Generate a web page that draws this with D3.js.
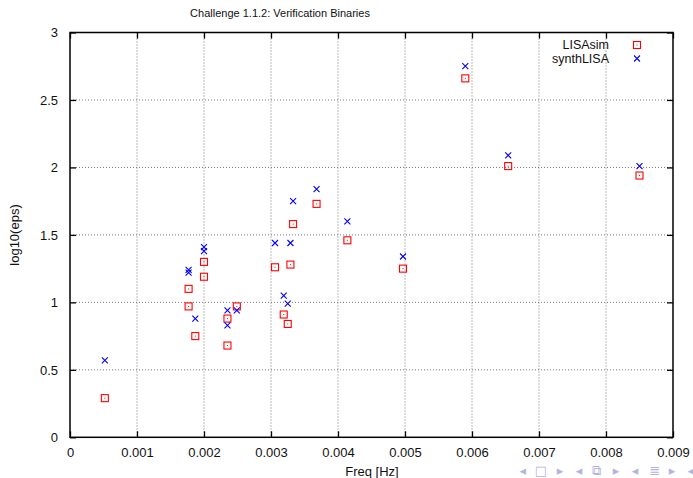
<!DOCTYPE html>
<html><head><meta charset="utf-8">
<script src="https://cdn.jsdelivr.net/npm/d3@7"></script>
<style>
body{margin:0;background:#fff;}
svg{display:block;font-family:"Liberation Sans",Arial,sans-serif;}
</style></head>
<body><svg id="c" width="693" height="478"></svg>
<script>
const freq = [0.00052, 0.00177, 0.00177, 0.00187, 0.0020, 0.0020, 0.00235, 0.00235, 0.00249, 0.00306, 0.00319, 0.00325, 0.00329, 0.00333, 0.00368, 0.00414, 0.00497, 0.0059, 0.00654, 0.00850];
const lisasim = [0.29, 0.97, 1.10, 0.75, 1.19, 1.30, 0.68, 0.88, 0.97, 1.26, 0.91, 0.84, 1.28, 1.58, 1.73, 1.46, 1.25, 2.66, 2.01, 1.94];
const synthlisa = [0.57, 1.22, 1.24, 0.88, 1.38, 1.41, 0.83, 0.94, 0.94, 1.44, 1.05, 0.99, 1.44, 1.75, 1.84, 1.60, 1.34, 2.75, 2.09, 2.01];
const xTicks = [0, 0.001, 0.002, 0.003, 0.004, 0.005, 0.006, 0.007, 0.008, 0.009];
const yTicks = [0, 0.5, 1, 1.5, 2, 2.5, 3];
const seriesNames = ["LISAsim", "synthLISA"];
const navSymbols = ["◂","□","▸","◂","⧉","▸","◂","≣","▸","◂"];

const svg = d3.select("#c");
const L = 70, R = 673, T = 32.5, B = 437.3;
const x = d3.scaleLinear().domain([0, 0.009]).range([L, R]);
const y = d3.scaleLinear().domain([0, 3]).range([B, T]);
const fmtX = d => d === 0 ? "0" : d3.format(".3f")(d);
const fmtY = d => String(d);

// grid
const grid = svg.append("g");
grid.selectAll("line.gx").data(xTicks.slice(1, -1)).join("line")
  .attr("x1", d => x(d)).attr("x2", d => x(d)).attr("y1", T).attr("y2", B)
  .attr("stroke", "#777").attr("stroke-width", 1).attr("stroke-dasharray", "1,2");
grid.selectAll("line.gy").data(yTicks.slice(1, -1)).join("line")
  .attr("y1", d => y(d)).attr("y2", d => y(d)).attr("x1", L).attr("x2", R)
  .attr("stroke", "#777").attr("stroke-width", 1).attr("stroke-dasharray", "1,2");

// axes
const tk = 6;
const ax = svg.append("g").attr("transform", `translate(0,${B})`)
  .call(d3.axisBottom(x).tickValues(xTicks).tickFormat(fmtX).tickSizeInner(-tk).tickSizeOuter(0).tickPadding(10));
const ay = svg.append("g").attr("transform", `translate(${L},0)`)
  .call(d3.axisLeft(y).tickValues(yTicks).tickFormat(fmtY).tickSizeInner(-tk).tickSizeOuter(0).tickPadding(12));
const at = svg.append("g").attr("transform", `translate(0,${T})`)
  .call(d3.axisTop(x).tickValues(xTicks).tickFormat("").tickSizeInner(-tk).tickSizeOuter(0));
const ar = svg.append("g").attr("transform", `translate(${R},0)`)
  .call(d3.axisRight(y).tickValues(yTicks).tickFormat("").tickSizeInner(-tk).tickSizeOuter(0));
[ax, ay, at, ar].forEach(g => {
  g.select(".domain").remove();
  g.selectAll(".tick line").attr("stroke", "#000").attr("stroke-width", 1.3);
  g.selectAll(".tick text").attr("fill", "#111").style("font-size", "13px").style("font-family", "Liberation Sans, Arial, sans-serif");
});
svg.append("rect").attr("x", L).attr("y", T).attr("width", R - L).attr("height", B - T)
  .attr("fill", "none").attr("stroke", "#000").attr("stroke-width", 1.5);

// markers
function square(g, cx, cy) {
  g.append("rect").attr("x", cx - 3.5).attr("y", cy - 3.5).attr("width", 7).attr("height", 7)
    .attr("fill", "none").attr("stroke", "#f00").attr("stroke-width", 1.1);
  g.append("rect").attr("x", cx - 0.5).attr("y", cy - 0.5).attr("width", 1).attr("height", 1).attr("fill", "#f00");
}
function cross(g, cx, cy) {
  g.append("path").attr("d", `M${cx-3},${cy-3}L${cx+3},${cy+3}M${cx-3},${cy+3}L${cx+3},${cy-3}`)
    .attr("stroke", "#00f").attr("stroke-width", 1.1).attr("fill", "none");
}
const pts = svg.append("g");
freq.forEach((f, i) => square(pts, x(f), y(lisasim[i])));
freq.forEach((f, i) => cross(pts, x(f), y(synthlisa[i])));

// legend
const lg = svg.append("g").style("font-size", "12.5px");
lg.append("text").attr("x", 609).attr("y", 49).attr("text-anchor", "end").attr("fill", "#111").text(seriesNames[0]);
lg.append("text").attr("x", 609).attr("y", 63).attr("text-anchor", "end").attr("fill", "#111").text(seriesNames[1]);
square(lg, 637, 45);
cross(lg, 637, 58.5);

// titles
svg.append("text").attr("x", 280).attr("y", 17).attr("text-anchor", "middle")
  .style("font-size", "11px").attr("fill", "#111").text("Challenge 1.1.2: Verification Binaries");
svg.append("text").attr("x", 372).attr("y", 476).attr("text-anchor", "middle")
  .style("font-size", "13px").attr("fill", "#111").text("Freq [Hz]");
svg.append("text").attr("transform", "translate(19,235) rotate(-90)").attr("text-anchor", "middle")
  .style("font-size", "13px").attr("fill", "#111").text("log10(eps)");

// navigation symbols
const navX = [522.7, 541, 560, 579, 596, 616, 635, 655, 672, 690.7];
svg.append("g").selectAll("text").data(navSymbols).join("text")
  .attr("x", (d, i) => navX[i]).attr("y", 475).attr("text-anchor", "middle")
  .style("font-family", "DejaVu Sans").style("font-size", "13px").attr("fill", "#b4b4e0")
  .text(d => d);
</script></body></html>
